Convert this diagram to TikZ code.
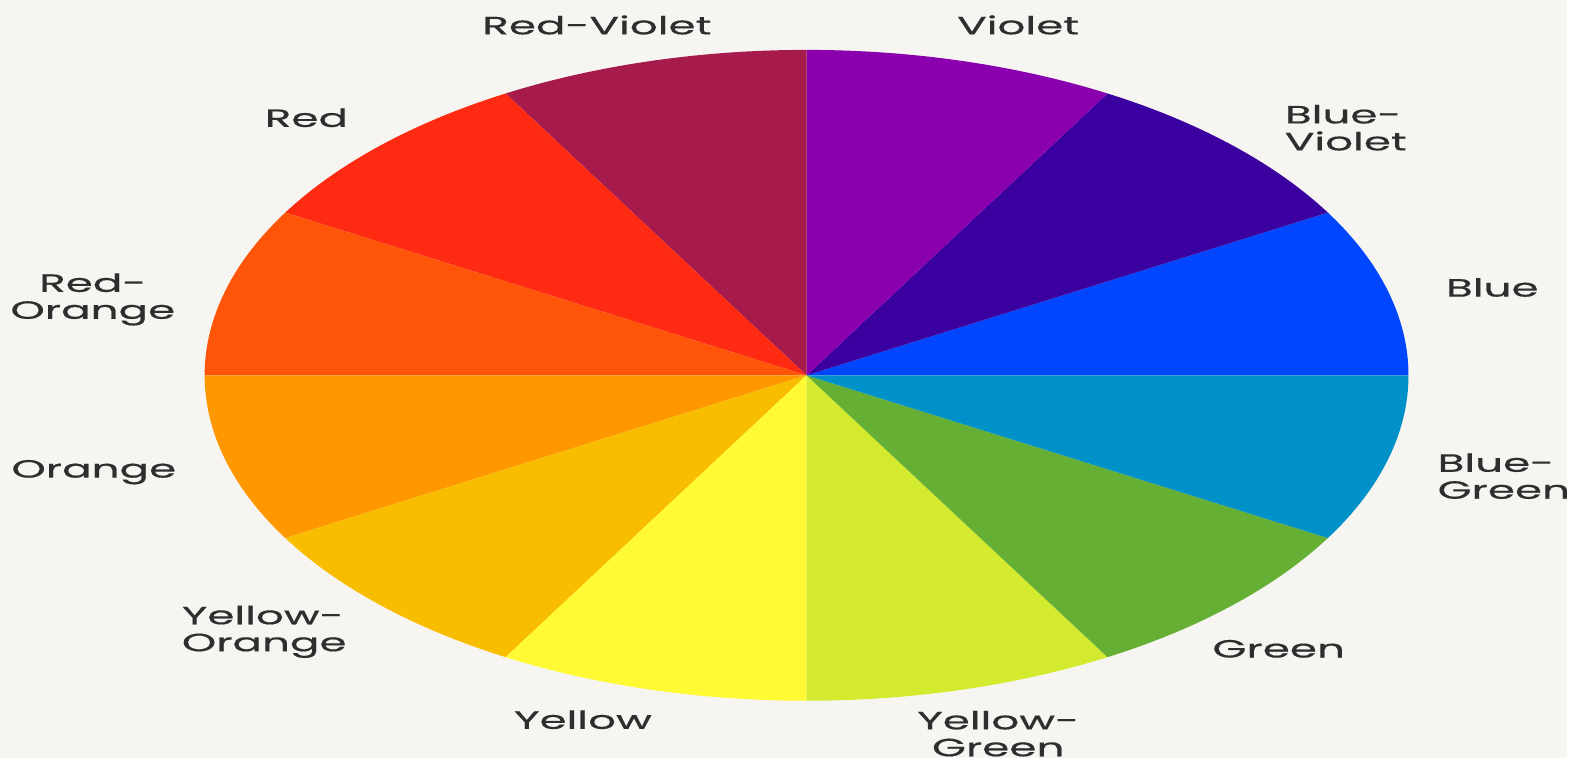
\documentclass[tikz,border=0pt]{standalone}
\usepackage{fontspec}
\newfontfamily\wheelfont[FakeStretch=1.75,FakeBold=0.5]{Poppins}
\definecolor{paper}{HTML}{F7F5F1}
\definecolor{ink}{HTML}{2E2E2E}
\definecolor{cB}{HTML}{0046FE}
\definecolor{cBV}{HTML}{3A00A0}
\definecolor{cV}{HTML}{8A00AE}
\definecolor{cRV}{HTML}{A71B4C}
\definecolor{cR}{HTML}{FF2A12}
\definecolor{cRO}{HTML}{FF5508}
\definecolor{cO}{HTML}{FF9800}
\definecolor{cYO}{HTML}{F9BD00}
\definecolor{cY}{HTML}{FFFA33}
\definecolor{cYG}{HTML}{D4EA2E}
\definecolor{cG}{HTML}{66AF35}
\definecolor{cBG}{HTML}{0091C9}
\begin{document}
\begin{tikzpicture}[x=1pt,y=1pt,
    lbl/.style={font=\wheelfont\fontsize{25}{27}\selectfont,text=ink,inner sep=0pt}]
    \fill[paper] (0,0) rectangle (1570,759);
    % the wheel, squeezed to an ellipse
    \foreach \a/\c in {0/cB,30/cBV,60/cV,90/cRV,120/cR,150/cRO,
                       180/cO,210/cYO,240/cY,270/cYG,300/cG,330/cBG}{
        \fill[\c] (808,383) -- ++(\a:603 and 326)
            arc[start angle=\a,delta angle=30,x radius=603,y radius=326] -- cycle;
    }
    % names
    \node[lbl] (rv) at (598,734) {Red-Violet};
    \node[lbl] (v) at (1020,734) {Violet};
    \node[lbl] (r) at (307,641) {Red};
    \node[lbl,anchor=west,align=left] (bv) at (1287,631) {Blue-\\Violet};
    \node[lbl] (b) at (1495,471) {Blue};
    \node[lbl,align=center] (ro) at (93,459) {Red-\\Orange};
    \node[lbl] (o) at (94,286) {Orange};
    \node[lbl,anchor=west,align=left] (yo) at (182,126) {Yellow-\\Orange};
    \node[lbl] (y) at (584,38) {Yellow};
    \node[lbl,align=center] (yg) at (1000,24) {Yellow-\\Green};
    \node[lbl] (g) at (1281,109) {Green};
    \node[lbl,anchor=west,align=left] (bg) at (1440,282) {Blue-\\Green};
\end{tikzpicture}
\end{document}
